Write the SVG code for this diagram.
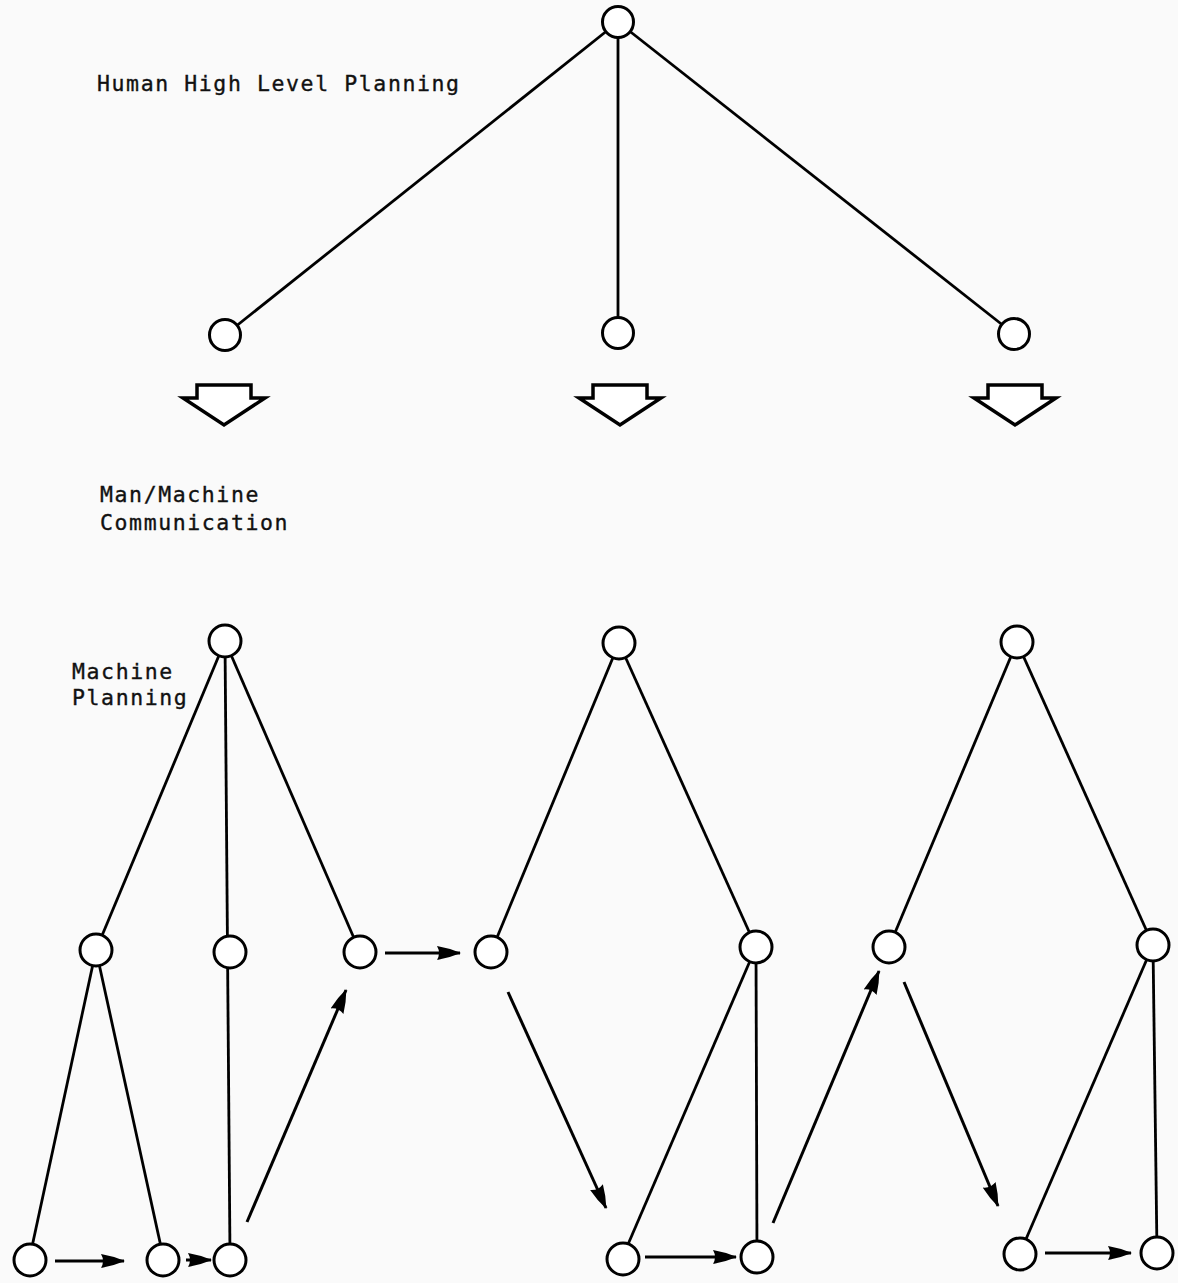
<svg xmlns="http://www.w3.org/2000/svg" width="1178" height="1283" viewBox="0 0 1178 1283">
<style>
.n{fill:#fff;stroke:#000;stroke-width:3}
.e{stroke:#000;stroke-width:2.8;fill:none}
.a{stroke:#000;stroke-width:3;fill:none;marker-end:url(#ah)}
.h{fill:#fff;stroke:#000;stroke-width:3.5;stroke-linejoin:miter}
text{font-family:"DejaVu Sans Mono","Liberation Mono",monospace;font-size:21.5px;letter-spacing:1.6px;fill:#111;stroke:#111;stroke-width:0.35}
</style>
<defs>
<marker id="ah" viewBox="0 0 24 16" refX="23" refY="8" markerWidth="24" markerHeight="16" markerUnits="userSpaceOnUse" orient="auto">
<path d="M0,1 Q12,3 24,8 Q12,13 0,15 Q4,8 0,1 Z" fill="#000"/>
</marker>
</defs>
<rect width="1178" height="1283" fill="#fafafa"/>
<g id="labels">
<text x="97" y="91">Human High Level Planning</text>
<text x="100" y="502">Man/Machine</text>
<text x="100" y="530">Communication</text>
<text x="72" y="679">Machine</text>
<text x="72" y="705">Planning</text>
</g>
<g id="connectors">
<line class="e" x1="618" y1="22" x2="225" y2="335"/>
<line class="e" x1="618" y1="22" x2="618" y2="333"/>
<line class="e" x1="618" y1="22" x2="1014" y2="334"/>
<line class="e" x1="225" y1="641" x2="96" y2="950"/>
<line class="e" x1="225" y1="641" x2="230" y2="1255"/>
<line class="e" x1="225" y1="641" x2="360" y2="952"/>
<line class="e" x1="96" y1="950" x2="30" y2="1256"/>
<line class="e" x1="96" y1="950" x2="163" y2="1256"/>
<line class="e" x1="619" y1="643" x2="491" y2="952"/>
<line class="e" x1="619" y1="643" x2="756" y2="947"/>
<line class="e" x1="756" y1="947" x2="623" y2="1256"/>
<line class="e" x1="756" y1="947" x2="757" y2="1255"/>
<line class="e" x1="1017" y1="642" x2="889" y2="947"/>
<line class="e" x1="1017" y1="642" x2="1153" y2="945"/>
<line class="e" x1="1153" y1="945" x2="1020" y2="1253"/>
<line class="e" x1="1153" y1="945" x2="1157" y2="1253"/>
<line class="a" x1="55" y1="1261" x2="124" y2="1261"/>
<line class="a" x1="186" y1="1260" x2="211" y2="1260"/>
<line class="a" x1="247" y1="1222" x2="346" y2="990"/>
<line class="a" x1="385" y1="953" x2="460" y2="953"/>
<line class="a" x1="508" y1="992" x2="606" y2="1208"/>
<line class="a" x1="645" y1="1257" x2="736" y2="1257"/>
<line class="a" x1="773" y1="1223" x2="879" y2="971"/>
<line class="a" x1="904" y1="982" x2="998" y2="1206"/>
<line class="a" x1="1045" y1="1253" x2="1131" y2="1253"/>
</g>
<g id="hollow-arrows">
<path class="h" d="M197,385 L251,385 L251,398 L265,398 L224,425 L183,398 L197,398 Z"/>
<path class="h" d="M593,385 L647,385 L647,398 L661,398 L620,425 L579,398 L593,398 Z"/>
<path class="h" d="M988,385 L1042,385 L1042,398 L1056,398 L1015,425 L974,398 L988,398 Z"/>
</g>
<g id="n0"><circle class="n" cx="618" cy="22" r="15.5"/></g>
<g id="n1"><circle class="n" cx="225" cy="335" r="15.5"/></g>
<g id="n2"><circle class="n" cx="618" cy="333" r="15.5"/></g>
<g id="n3"><circle class="n" cx="1014" cy="334" r="15.5"/></g>
<g id="t1root"><circle class="n" cx="225" cy="641" r="16"/></g>
<g id="t1a"><circle class="n" cx="96" cy="950" r="16"/></g>
<g id="t1b"><circle class="n" cx="230" cy="952" r="16"/></g>
<g id="t1c"><circle class="n" cx="360" cy="952" r="16"/></g>
<g id="t1a1"><circle class="n" cx="30" cy="1260" r="16"/></g>
<g id="t1a2"><circle class="n" cx="163" cy="1260" r="16"/></g>
<g id="t1b1"><circle class="n" cx="230" cy="1260" r="16"/></g>
<g id="t2root"><circle class="n" cx="619" cy="643" r="16"/></g>
<g id="t2a"><circle class="n" cx="491" cy="952" r="16"/></g>
<g id="t2b"><circle class="n" cx="756" cy="947" r="16"/></g>
<g id="t2b1"><circle class="n" cx="623" cy="1259" r="16"/></g>
<g id="t2b2"><circle class="n" cx="757" cy="1257" r="16"/></g>
<g id="t3root"><circle class="n" cx="1017" cy="642" r="16"/></g>
<g id="t3a"><circle class="n" cx="889" cy="947" r="16"/></g>
<g id="t3b"><circle class="n" cx="1153" cy="945" r="16"/></g>
<g id="t3b1"><circle class="n" cx="1020" cy="1254" r="16"/></g>
<g id="t3b2"><circle class="n" cx="1157" cy="1253" r="16"/></g>
</svg>
